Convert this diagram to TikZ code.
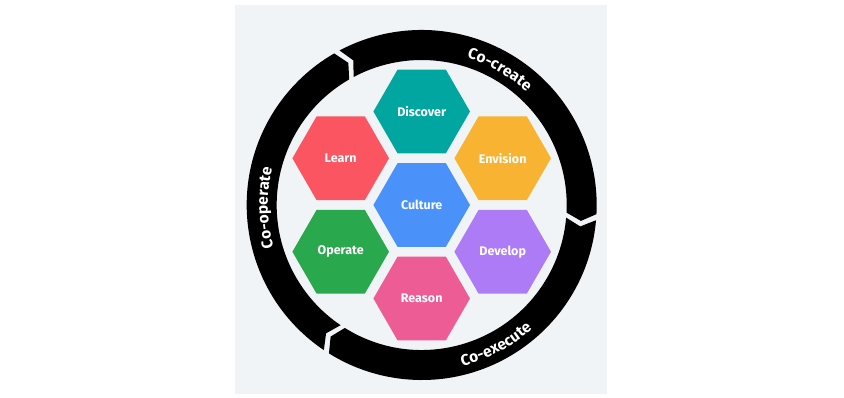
\documentclass[tikz,border=0pt]{standalone}
\usepackage{fontspec}
\setmainfont{Fira Sans}
\usetikzlibrary{shapes.geometric,decorations.text}

\definecolor{bgcol}{HTML}{F1F4F7}
\definecolor{discovercol}{HTML}{00A69F}
\definecolor{learncol}{HTML}{FA5561}
\definecolor{envisioncol}{HTML}{F8B332}
\definecolor{culturecol}{HTML}{4A91F9}
\definecolor{operatecol}{HTML}{2AA84E}
\definecolor{developcol}{HTML}{AE7BF6}
\definecolor{reasoncol}{HTML}{EE5C95}

% ring piece: start angle (notch) -> end angle (tip), clockwise
\newcommand\ringseg[2]{%
  \fill (#1:\rout) arc[start angle=#1,end angle=#2,radius=\rout]
    -- ({#2-\tip}:\rmid) -- (#2:\rin)
    arc[start angle=#2,end angle=#1,radius=\rin]
    -- ({#1-\tip}:\rmid) -- cycle;}

\begin{document}
\begin{tikzpicture}[x=1pt,y=1pt,
    hexa/.style={regular polygon,regular polygon sides=6,minimum size=96.6pt,
      inner sep=0pt,text=white,font=\fontsize{12.5}{14}\selectfont\bfseries},
    ringtext/.style={decorate,decoration={text along path,text align=center,
      text color=white,text={|\fontsize{15.5}{17}\selectfont\bfseries|#1}}}]

    % ===== sizes: ring radii and hexagon grid step =====
    \def\rin{145pt}\def\rmid{160pt}\def\rout{175pt}\def\tip{2.7}
    \def\d{93.5}\def\dx{81}\def\dy{46.75}

    \useasboundingbox (-421.7,-192) rectangle (422.3,205);
    \fill[bgcol] (-186.7,-189) rectangle (185.3,200);

    % ---- outer ring, three arrow pieces ----
    \ringseg{118}{-3}
    \ringseg{-5}{-122}
    \ringseg{-124}{-240}

    % ---- ring labels ----
    \path[ringtext=Co-create] (90:154pt) arc[start angle=90,end angle=30,radius=154pt];
    \path[ringtext=Co-execute] (-92:166pt) arc[start angle=-92,end angle=-32,radius=166pt];
    \path[ringtext=Co-operate] (211:154pt) arc[start angle=211,end angle=151,radius=154pt];

    % ---- hexagons ----
    \node[hexa,fill=culturecol] (culture) at (0,0) {Culture};
    \node[hexa,fill=discovercol] (discover) at (0,\d) {Discover};
    \node[hexa,fill=reasoncol] (reason) at (0,-\d) {Reason};
    \node[hexa,fill=learncol] (learn) at (-\dx,\dy) {Learn};
    \node[hexa,fill=envisioncol] (envision) at (\dx,\dy) {Envision};
    \node[hexa,fill=operatecol] (operate) at (-\dx,-\dy) {Operate};
    \node[hexa,fill=developcol] (develop) at (\dx,-\dy) {Develop};

\end{tikzpicture}
\end{document}
